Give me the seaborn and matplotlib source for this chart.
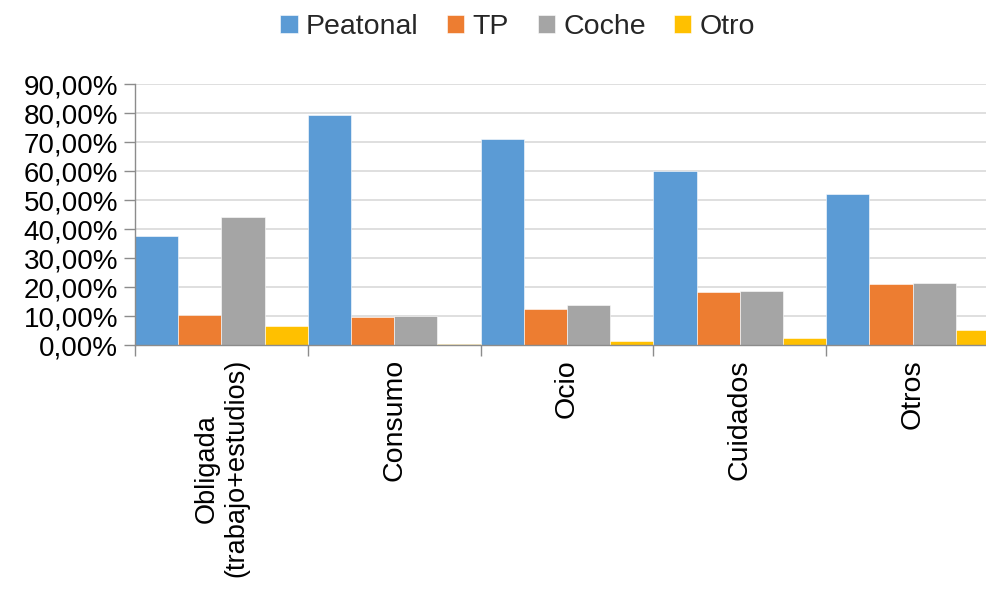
import matplotlib
matplotlib.use("Agg")
import matplotlib.pyplot as plt
import seaborn as sns
import pandas as pd
from matplotlib.ticker import FuncFormatter, FixedLocator

categories = ["Obligada\n(trabajo+estudios)", "Consumo", "Ocio", "Cuidados", "Otros"]
series = ["Peatonal", "TP", "Coche", "Otro"]
peatonal = [0.378, 0.792, 0.711, 0.602, 0.520]
tp = [0.104, 0.096, 0.124, 0.183, 0.210]
coche = [0.443, 0.100, 0.139, 0.187, 0.216]
otro = [0.066, 0.006, 0.015, 0.025, 0.053]
colors = ["#5B9BD5", "#ED7D31", "#A5A5A5", "#FFC000"]

rows = []
for s, vals in zip(series, [peatonal, tp, coche, otro]):
    for c, v in zip(categories, vals):
        rows.append({"cat": c, "serie": s, "val": v})
df = pd.DataFrame(rows)

sns.set_theme(style="white")
plt.rcParams["font.family"] = ["Liberation Sans", "DejaVu Sans"]

fig = plt.figure(figsize=(9.87, 5.90), dpi=100)
ax = fig.add_axes([135/987, 1-345.3/590, 1-135/987 + 12/987, (345.3-84)/590])

sns.barplot(data=df, x="cat", y="val", hue="serie", order=categories,
            hue_order=series, palette=colors, width=1.0, gap=0, saturation=1,
            edgecolor="white", linewidth=0.4, ax=ax, legend=True)

ax.set_ylim(0, 0.9)
ax.set_xlim(-0.5, 4.5)
ax.yaxis.set_major_locator(FixedLocator([i/10 for i in range(10)]))
ax.yaxis.set_major_formatter(FuncFormatter(lambda v, p: f"{v*100:.2f}%".replace(".", ",")))
ax.grid(axis="y", color="#D9D9D9", linewidth=1.2)
ax.set_axisbelow(True)
ax.set_xlabel("")
ax.set_ylabel("")

for side in ["top", "right"]:
    ax.spines[side].set_visible(False)
for side in ["left", "bottom"]:
    ax.spines[side].set_color("#8C8C8C")
    ax.spines[side].set_linewidth(1.0)

ax.tick_params(axis="y", which="major", left=True, length=8, width=1.0, color="#8C8C8C",
               labelsize=20, pad=4, labelcolor="#000000")
ax.set_xticks(range(len(categories)))
ax.set_xticklabels(categories, rotation=90, fontsize=20.5, va="top", ha="center",
                   multialignment="center")
ax.get_xticklabels()[0].set_fontsize(19.5)
ax.tick_params(axis="x", which="major", length=0, pad=10, labelcolor="#000000")
ax.set_xticks([i - 0.5 for i in range(len(categories) + 1)], minor=True)
ax.tick_params(axis="x", which="minor", bottom=True, length=8, width=1.0, color="#8C8C8C")

handles, labels = ax.get_legend_handles_labels()
ax.legend(handles, labels, loc="center", bbox_to_anchor=(518/987, 1-27/590),
          bbox_transform=fig.transFigure, ncol=4, frameon=False, fontsize=20.5,
          handlelength=0.6, handleheight=0.6, handletextpad=0.3, columnspacing=1.0)

fig.savefig("out.png", dpi=100)
